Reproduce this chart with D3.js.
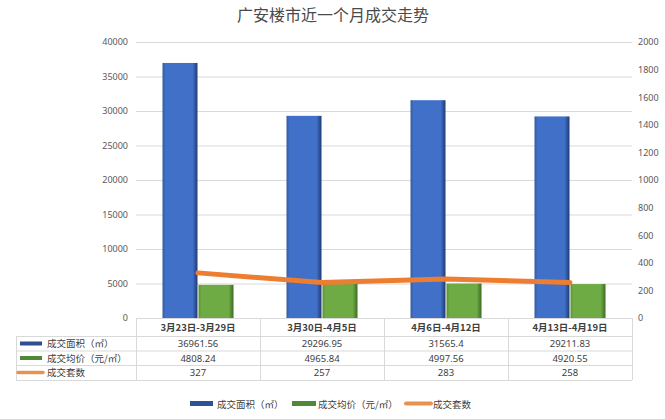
<!DOCTYPE html>
<html><head><meta charset="utf-8">
<script src="https://cdn.jsdelivr.net/npm/d3@7"></script>
<style>body{margin:0;background:#fff;}svg{display:block;font-family:"Noto Sans CJK SC","Noto Sans",sans-serif;}</style>
</head><body>
<svg id="c" width="665" height="420"></svg>
<script>
const categories = ["3月23日-3月29日","3月30日-4月5日","4月6日-4月12日","4月13日-4月19日"];
const areaValues = [36961.56, 29296.95, 31565.4, 29211.83];
const priceValues = [4808.24, 4965.84, 4997.56, 4920.55];
const countValues = [327, 257, 283, 258];
const areaLabels = ["36961.56","29296.95","31565.4","29211.83"];
const priceLabels = ["4808.24","4965.84","4997.56","4920.55"];
const countLabels = ["327","257","283","258"];
const leftTicks = [0,5000,10000,15000,20000,25000,30000,35000,40000];
const rightTicks = [0,200,400,600,800,1000,1200,1400,1600,1800,2000];
const seriesNames = ["成交面积（㎡）","成交均价（元/㎡）","成交套数"];
const title = "广安楼市近一个月成交走势";

const svg = d3.select("#c");
const L = 136, R = 632, T = 42, B = 318;
const x = d3.scaleBand().domain(categories).range([L, R]).paddingInner(0).paddingOuter(0);
const inner = d3.scaleBand().domain(["a","p"]).range([0, x.bandwidth()]).paddingInner(0.028).paddingOuter(0.736);
const yL = d3.scaleLinear().domain([0,40000]).range([B, T]);
const yR = d3.scaleLinear().domain([0,2000]).range([B, T]);

const defs = svg.append("defs");
function grad(id, edge, mid, edge2){
  const g = defs.append("linearGradient").attr("id", id).attr("x1","0").attr("x2","1").attr("y1","0").attr("y2","0");
  g.append("stop").attr("offset","0%").attr("stop-color",edge);
  g.append("stop").attr("offset","8%").attr("stop-color",mid);
  g.append("stop").attr("offset","86%").attr("stop-color",mid);
  g.append("stop").attr("offset","100%").attr("stop-color",edge2);
}
grad("gb","#34589e","#4070c8","#1f3a73");
grad("gg","#5a8f36","#6eab45","#3e6b22");

// title
svg.append("text").attr("x", 333).attr("y", 21).attr("text-anchor","middle")
  .attr("font-size", 16).attr("fill","#4a4a4a").text(title);

// gridlines
svg.append("g").selectAll("line").data(leftTicks.filter(d=>d>0)).join("line")
  .attr("x1", L).attr("x2", R).attr("y1", d=>yL(d)+0.5).attr("y2", d=>yL(d)+0.5)
  .attr("stroke","#d9d9d9").attr("stroke-width",1);

// left axis
const la = svg.append("g").attr("transform",`translate(${L},0)`)
  .call(d3.axisLeft(yL).tickValues(leftTicks).tickSize(0).tickPadding(8).tickFormat(d3.format("d")));
la.select(".domain").remove();
la.selectAll("text").attr("font-size",9).attr("fill","#595959").attr("font-family","Noto Sans, sans-serif");

// right axis
const ra = svg.append("g").attr("transform",`translate(${R},0)`)
  .call(d3.axisRight(yR).tickValues(rightTicks).tickSize(0).tickPadding(6).tickFormat(d3.format("d")));
ra.select(".domain").remove();
ra.selectAll("text").attr("font-size",9).attr("fill","#595959").attr("font-family","Noto Sans, sans-serif");

// bars
const bars = svg.append("g");
bars.selectAll("rect.a").data(categories).join("rect").attr("class","a")
  .attr("x", d=>x(d)+inner("a")).attr("width", inner.bandwidth())
  .attr("y", (d,i)=>yL(areaValues[i])).attr("height",(d,i)=>B-yL(areaValues[i]))
  .attr("fill","url(#gb)");
bars.selectAll("rect.p").data(categories).join("rect").attr("class","p")
  .attr("x", d=>x(d)+inner("p")).attr("width", inner.bandwidth())
  .attr("y", (d,i)=>yL(priceValues[i])).attr("height",(d,i)=>B-yL(priceValues[i]))
  .attr("fill","url(#gg)");

// line
const line = d3.line().x((d,i)=>x(categories[i])+x.bandwidth()/2).y(d=>yR(d)).curve(d3.curveLinear);
svg.append("path").datum(countValues).attr("d", line).attr("fill","none")
  .attr("stroke","#ed7d31").attr("stroke-width",5).attr("stroke-linecap","round").attr("stroke-linejoin","round");

// data table
const tbl = svg.append("g");
const gcol = "#d9d9d9";
tbl.append("line").attr("x1",L).attr("x2",R).attr("y1",B+0.5).attr("y2",B+0.5).attr("stroke",gcol);
[336, 350.5, 365, 380].forEach(yv=>{
  tbl.append("line").attr("x1",16).attr("x2",R).attr("y1",yv+0.5).attr("y2",yv+0.5).attr("stroke",gcol);
});
categories.forEach(c=>{
  tbl.append("line").attr("x1",x(c)+0.5).attr("x2",x(c)+0.5).attr("y1",B).attr("y2",380).attr("stroke",gcol);
});
tbl.append("line").attr("x1",R+0.5).attr("x2",R+0.5).attr("y1",B).attr("y2",380).attr("stroke",gcol);
tbl.append("line").attr("x1",16.5).attr("x2",16.5).attr("y1",336).attr("y2",380).attr("stroke",gcol);

tbl.selectAll("text.h").data(categories).join("text").attr("class","h")
  .attr("x", d=>x(d)+x.bandwidth()/2).attr("y", 331).attr("text-anchor","middle")
  .attr("font-size",9.5).attr("font-weight","bold").attr("fill","#404040").text(d=>d);
const rowsTxt = [areaLabels, priceLabels, countLabels];
const rowMid = [343.5, 358, 372.5];
rowsTxt.forEach((arr, r)=>{
  tbl.selectAll("text.r"+r).data(arr).join("text").attr("class","r"+r)
    .attr("x",(d,i)=>x(categories[i])+x.bandwidth()/2).attr("y", rowMid[r]+3.5)
    .attr("text-anchor","middle").attr("font-size",9.5).attr("fill","#404040")
    .attr("font-family","Noto Sans, sans-serif").text(d=>d);
});
const keyCol = ["#2f4f8f","#4e8a35","#e8924f"];
rowMid.forEach((ym, r)=>{
  if(r<2){
    tbl.append("rect").attr("x",20).attr("y",ym-2).attr("width",22).attr("height",4).attr("fill",keyCol[r]);
  } else {
    tbl.append("line").attr("x1",18).attr("x2",43).attr("y1",ym).attr("y2",ym).attr("stroke",keyCol[r]).attr("stroke-width",3.5).attr("stroke-linecap","round");
  }
  tbl.append("text").attr("x",47).attr("y",ym+3.5).attr("font-size",9.5).attr("fill","#404040").text(seriesNames[r]);
});

// bottom legend
const lg = svg.append("g");
const legItems = [{x:190,w:23,t:seriesNames[0],tx:217,type:"rect",c:"#2f5296"},
                  {x:292,w:24,t:seriesNames[1],tx:318,type:"rect",c:"#4e8a35"},
                  {x:406,w:25,t:seriesNames[2],tx:433,type:"line",c:"#e8924f"}];
legItems.forEach(it=>{
  if(it.type==="rect") lg.append("rect").attr("x",it.x).attr("y",401).attr("width",it.w).attr("height",5).attr("fill",it.c);
  else lg.append("line").attr("x1",it.x).attr("x2",it.x+it.w).attr("y1",403.5).attr("y2",403.5).attr("stroke",it.c).attr("stroke-width",4).attr("stroke-linecap","round");
  lg.append("text").attr("x",it.tx).attr("y",407.5).attr("font-size",9.5).attr("fill","#404040").text(it.t);
});
svg.append("line").attr("x1",0).attr("x2",665).attr("y1",419.5).attr("y2",419.5).attr("stroke","#d9d9d9");
</script>
</body></html>
